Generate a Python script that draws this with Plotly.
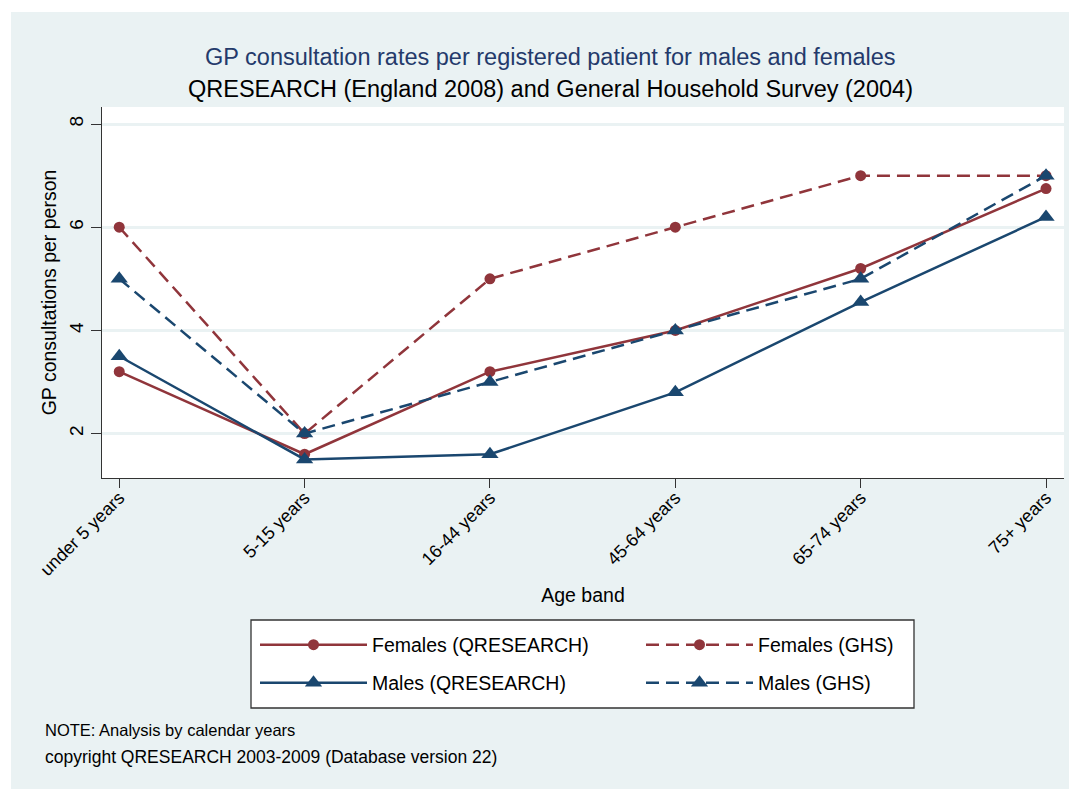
import plotly.graph_objects as go

age_bands = ["under 5 years", "5-15 years", "16-44 years", "45-64 years", "65-74 years", "75+ years"]
females_qr = [3.2, 1.6, 3.2, 4.0, 5.2, 6.75]
females_ghs = [6, 2, 5, 6, 7, 7]
males_qr = [3.5, 1.5, 1.6, 2.8, 4.55, 6.2]
males_ghs = [5, 2, 3, 4, 5, 7]
y_ticks = [2, 4, 6, 8]

RED = "#90353B"
NAVY = "#1A476F"
TITLE = "#243A6B"
BG = "#EAF2F3"
AX = "#333333"
FONT = "Liberation Sans, Arial, sans-serif"

OFF = 8  # page body margin
W, H = 1077 - OFF, 789 - OFF
L, T = 102 - OFF, 107 - OFF
R = W - (1064 - OFF)
B = H - (478 - OFF)
pw, ph = W - L - R, H - T - B

def px(xs):
    return (xs - OFF - L) / pw

def py(ys):
    return (H - B - (ys - OFF)) / ph

fig = go.Figure()
series = [
    ("Females (QRESEARCH)", females_qr, RED, "solid", "circle", 11, "legend"),
    ("Females (GHS)", females_ghs, RED, "13px,7px", "circle", 11, "legend"),
    ("Males (QRESEARCH)", males_qr, NAVY, "solid", "triangle-up", 15, "legend2"),
    ("Males (GHS)", males_ghs, NAVY, "13px,7px", "triangle-up", 15, "legend2"),
]
for name, vals, col, dash, sym, sz, lg in series:
    fig.add_trace(go.Scatter(
        x=list(range(len(age_bands))), y=vals, name=name, mode="lines+markers",
        line=dict(color=col, width=2.5, dash=dash),
        marker=dict(color=col, symbol=sym, size=sz),
        legend=lg,
    ))

leg_common = dict(
    orientation="h", xanchor="left", yanchor="middle",
    bgcolor="rgba(0,0,0,0)", borderwidth=0,
    font=dict(size=19.5, family=FONT), entrywidth=264, entrywidthmode="pixels",
    itemwidth=107, traceorder="normal",
)

fig.update_layout(
    width=W, height=H,
    margin=dict(l=L, r=R, t=T, b=B, autoexpand=False),
    paper_bgcolor=BG, plot_bgcolor="white",
    font=dict(family=FONT, color="black", size=18),
    showlegend=True,
    legend=dict(x=px(255), y=py(645), **leg_common),
    legend2=dict(x=px(255), y=py(683), **leg_common),
    xaxis=dict(
        range=[-0.093, 5.097], tickmode="array",
        tickvals=list(range(len(age_bands))), ticktext=age_bands,
        tickangle=-45, ticks="outside", ticklen=9, tickcolor=AX, tickwidth=1.3,
        showline=True, linecolor=AX, linewidth=1.3, showgrid=False, zeroline=False,
        ticklabelstandoff=-8,
        tickfont=dict(size=18), title=dict(text="Age band", font=dict(size=19.5), standoff=9),
    ),
    yaxis=dict(
        range=[1.14, 8.33], tickmode="array", tickvals=y_ticks,
        tickangle=-90, ticks="outside", ticklen=10, tickcolor=AX, tickwidth=1.3,
        showline=True, linecolor=AX, linewidth=1.3, ticklabelstandoff=0,
        showgrid=True, gridcolor=BG, gridwidth=2.5, zeroline=False,
        tickfont=dict(size=19),
        title=dict(text="GP consultations per person", font=dict(size=19.5), standoff=4),
    ),
)

# white outer border strip (top and left)
fig.add_shape(type="rect", xref="paper", yref="paper", x0=px(0), x1=px(W + 40), y0=py(12), y1=py(0),
              fillcolor="white", line=dict(width=0), layer="below")
fig.add_shape(type="rect", xref="paper", yref="paper", x0=px(0), x1=px(11), y0=py(H + 40), y1=py(0),
              fillcolor="white", line=dict(width=0), layer="below")
# legend frame
fig.add_shape(type="rect", xref="paper", yref="paper", x0=px(251), x1=px(914), y0=py(708), y1=py(620),
              fillcolor="white", line=dict(width=1.3, color=AX), layer="below")

ann = [
    ("GP consultation rates per registered patient for males and females", 550, 57, 23.5, TITLE, "center"),
    ("QRESEARCH (England 2008) and General Household Survey (2004)", 550, 89, 23.5, "black", "center"),
    ("NOTE: Analysis by calendar years", 43, 730, 16.5, "black", "left"),
    ("copyright QRESEARCH 2003-2009 (Database version 22)", 43, 757, 17.5, "black", "left"),
]
for text, x, y, size, col, anchor in ann:
    fig.add_annotation(text=text, x=px(x), y=py(y), xref="paper", yref="paper",
                       xanchor=anchor, yanchor="middle", showarrow=False,
                       font=dict(size=size, color=col, family=FONT))

fig.write_html("out.html")
